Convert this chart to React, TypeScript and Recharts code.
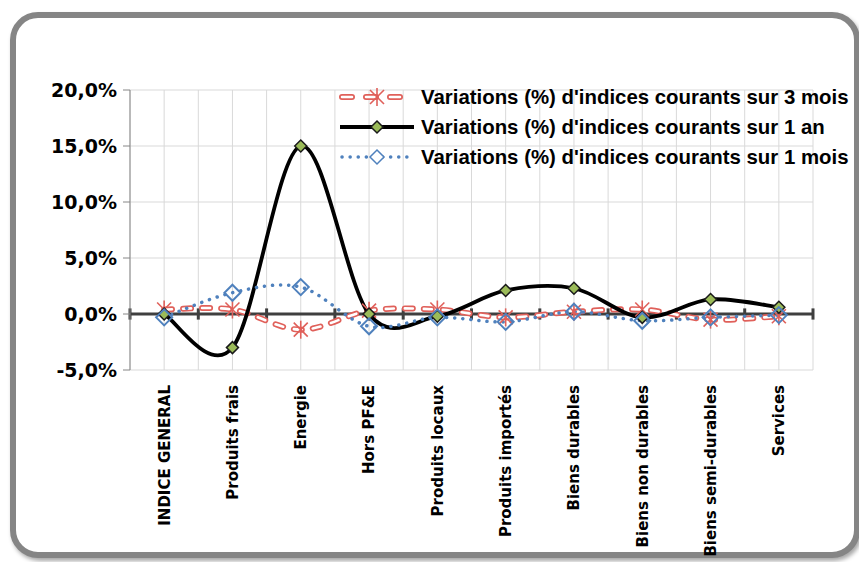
import React from 'react';
import { LineChart, Line, XAxis, YAxis, CartesianGrid, ReferenceLine } from 'recharts';

const categories = [
  'INDICE GENERAL',
  'Produits frais',
  'Energie',
  'Hors PF&E',
  'Produits locaux',
  'Produits importés',
  'Biens durables',
  'Biens non durables',
  'Biens semi-durables',
  'Services',
];
const var3Mois = [0.4, 0.4, -1.4, 0.3, 0.4, -0.3, 0.2, 0.4, -0.5, -0.2];
const var1An = [0.0, -3.0, 15.0, 0.0, -0.2, 2.1, 2.3, -0.3, 1.3, 0.6];
const var1Mois = [-0.3, 1.9, 2.4, -1.1, -0.3, -0.7, 0.2, -0.6, -0.3, -0.1];
const yTicks = [-5, 0, 5, 10, 15, 20];
const seriesNames = [
  "Variations (%) d'indices courants sur 3 mois",
  "Variations (%) d'indices courants sur 1 an",
  "Variations (%) d'indices courants sur 1 mois",
];

const data = categories.map((name, i) => ({
  idx: i,
  name,
  m3: var3Mois[i],
  a1: var1An[i],
  m1: var1Mois[i],
}));

const xTicks = categories.map((_, i) => i);
const boundaries = [...categories.map((_, i) => i - 0.5), categories.length - 0.5];
const halfLines: number[] = [];
for (let k = 0; k <= categories.length * 2; k++) halfLines.push(-0.5 + k * 0.5);

const RED = '#e0605a';
const BLUE = '#4f81bd';
const GREEN = '#9bbb59';

// Excel-like smoothed curve (Catmull-Rom / Bezier)
const excelCurve: any = (context: any) => {
  let pts: number[][] = [];
  return {
    areaStart() {},
    areaEnd() {},
    lineStart() {
      pts = [];
    },
    lineEnd() {
      const n = pts.length;
      if (!n) return;
      context.moveTo(pts[0][0], pts[0][1]);
      for (let i = 0; i < n - 1; i++) {
        const p0 = pts[i - 1] || pts[i];
        const p1 = pts[i];
        const p2 = pts[i + 1];
        const p3 = pts[i + 2] || p2;
        const c1x = p1[0] + (p2[0] - p0[0]) / 6;
        const c1y = p1[1] + (p2[1] - p0[1]) / 6;
        const c2x = p2[0] - (p3[0] - p1[0]) / 6;
        const c2y = p2[1] - (p3[1] - p1[1]) / 6;
        context.bezierCurveTo(c1x, c1y, c2x, c2y, p2[0], p2[1]);
      }
    },
    point(x: number, y: number) {
      pts.push([+x, +y]);
    },
  };
};

const Asterisk = (props: any) => {
  const { cx, cy } = props;
  if (cx == null || cy == null) return null;
  const r = 9;
  const d = 7;
  return (
    <g stroke={RED} strokeWidth={1.6} fill="none">
      <line x1={cx} y1={cy - r} x2={cx} y2={cy + r} />
      <line x1={cx - d} y1={cy - d} x2={cx + d} y2={cy + d} />
      <line x1={cx - d} y1={cy + d} x2={cx + d} y2={cy - d} />
    </g>
  );
};

const GreenDiamond = (props: any) => {
  const { cx, cy } = props;
  if (cx == null || cy == null) return null;
  const r = 6;
  return (
    <polygon
      points={`${cx},${cy - r} ${cx + r},${cy} ${cx},${cy + r} ${cx - r},${cy}`}
      fill={GREEN}
      stroke="#1a1a1a"
      strokeWidth={1.5}
    />
  );
};

const BlueDiamond = (props: any) => {
  const { cx, cy } = props;
  if (cx == null || cy == null) return null;
  const r = 8;
  return (
    <polygon
      points={`${cx},${cy - r} ${cx + r},${cy} ${cx},${cy + r} ${cx - r},${cy}`}
      fill="none"
      stroke={BLUE}
      strokeWidth={2}
    />
  );
};

const XTick = (props: any) => {
  const { x, y, payload } = props;
  const label = categories[payload.value];
  const ty = y + 7;
  return (
    <text
      x={x}
      y={ty}
      transform={`rotate(-90, ${x}, ${ty})`}
      textAnchor="end"
      dy="0.36em"
      fontFamily="DejaVu Sans"
      fontWeight="bold"
      fontSize={15}
      fill="#000"
    >
      {label}
    </text>
  );
};

const fmtPct = (v: number) => v.toFixed(1).replace('.', ',') + '%';

const LegendIcon = ({ kind }: { kind: number }) => (
  <svg width={78} height={30} style={{ display: 'block' }}>
    {kind === 0 && (
      <g>
        <line x1={4} y1={15} x2={74} y2={15} stroke={RED} strokeWidth={6} strokeDasharray="10 14" strokeLinecap="round" />
        <line x1={4} y1={15} x2={74} y2={15} stroke="#fff" strokeWidth={2.6} strokeDasharray="10 14" strokeLinecap="round" />
        <Asterisk cx={39} cy={15} />
      </g>
    )}
    {kind === 1 && (
      <g>
        <line x1={2} y1={15} x2={76} y2={15} stroke="#000" strokeWidth={4} />
        <GreenDiamond cx={39} cy={15} />
      </g>
    )}
    {kind === 2 && (
      <g>
        <line x1={4} y1={15} x2={74} y2={15} stroke={BLUE} strokeWidth={3.5} strokeDasharray="0.1 8" strokeLinecap="round" />
        <polygon points="39,8 46,15 39,22 32,15" fill="#fff" stroke={BLUE} strokeWidth={1.5} />
      </g>
    )}
  </svg>
);

export default function App() {
  return (
    <div style={{ position: 'absolute', left: 0, top: 0, width: 859, height: 562, background: '#fff', overflow: 'hidden' }}>
      <div
        style={{
          position: 'absolute',
          left: 10,
          top: 12,
          width: 850,
          height: 546,
          border: '6px solid #858585',
          borderRadius: 28,
          boxSizing: 'border-box',
          boxShadow: '2px 3px 4px rgba(0,0,0,0.35)',
          background: '#fff',
        }}
      />
      <div style={{ position: 'absolute', left: 0, top: 0 }}>
        <LineChart width={859} height={562} data={data} margin={{ top: 90, right: 46, bottom: 0, left: 0 }}>
          <CartesianGrid vertical={false} stroke="#d9d9d9" strokeWidth={1} />
          {halfLines.map((v) => (
            <ReferenceLine key={'g' + v} x={v} stroke="#d9d9d9" strokeWidth={1} ifOverflow="extendDomain" />
          ))}
          <XAxis
            dataKey="idx"
            type="number"
            domain={[-0.5, categories.length - 0.5]}
            ticks={xTicks}
            interval={0}
            axisLine={false}
            tickLine={false}
            height={192}
            tick={<XTick />}
          />
          <YAxis
            domain={[-5, 20]}
            ticks={yTicks}
            width={130}
            axisLine={{ stroke: '#868686', strokeWidth: 1 }}
            tickLine={{ stroke: '#868686', strokeWidth: 1 }}
            tickSize={7}
            tickMargin={6}
            tickFormatter={fmtPct}
            tick={{ fontFamily: 'DejaVu Sans', fontWeight: 'bold', fontSize: 19, fill: '#000' }}
          />
          <ReferenceLine y={0} stroke="#3f3f3f" strokeWidth={3} />
          {boundaries.map((b) => (
            <ReferenceLine
              key={'t' + b}
              segment={[
                { x: b, y: -0.5 },
                { x: b, y: 0.5 },
              ]}
              stroke="#3f3f3f"
              strokeWidth={3}
            />
          ))}
          <Line
            dataKey="m3"
            name={seriesNames[0]}
            type={excelCurve}
            stroke={RED}
            strokeWidth={6}
            strokeDasharray="8 11"
            strokeLinecap="round"
            dot={false}
            activeDot={false}
            isAnimationActive={false}
          />
          <Line
            dataKey="m3"
            type={excelCurve}
            stroke="#fff"
            strokeWidth={2.6}
            strokeDasharray="8 11"
            strokeLinecap="round"
            dot={<Asterisk />}
            activeDot={false}
            legendType="none"
            isAnimationActive={false}
          />
          <Line
            dataKey="a1"
            name={seriesNames[1]}
            type={excelCurve}
            stroke="#000"
            strokeWidth={3.8}
            dot={<GreenDiamond />}
            activeDot={false}
            isAnimationActive={false}
          />
          <Line
            dataKey="m1"
            name={seriesNames[2]}
            type={excelCurve}
            stroke={BLUE}
            strokeWidth={3.5}
            strokeDasharray="0.1 8"
            strokeLinecap="round"
            dot={<BlueDiamond />}
            activeDot={false}
            isAnimationActive={false}
          />
        </LineChart>
      </div>
      <div style={{ position: 'absolute', left: 338, top: 82, width: 521 }}>
        {seriesNames.map((n, i) => (
          <div key={n} style={{ display: 'flex', alignItems: 'center', height: 30, whiteSpace: 'nowrap' }}>
            <LegendIcon kind={i} />
            <span
              style={{
                marginLeft: 5,
                fontFamily: 'Liberation Sans, Arial, sans-serif',
                fontWeight: 'bold',
                fontSize: 20.4,
                color: '#000',
              }}
            >
              {n}
            </span>
          </div>
        ))}
      </div>
    </div>
  );
}
